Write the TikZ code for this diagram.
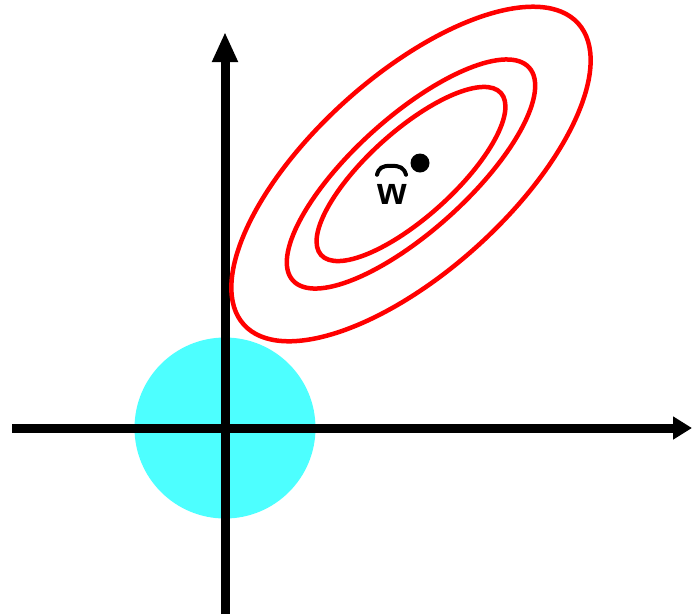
\documentclass[tikz,border=0pt]{standalone}
\usepackage{amsmath}
\usepackage{fontspec}
\usepackage{tikz}
\usetikzlibrary{arrows.meta,calc,positioning}
\newfontfamily\labelfont{Liberation Sans}
\definecolor{ballcyan}{RGB}{77,255,255}
\definecolor{contourred}{RGB}{255,0,0}

\tikzset{
 axisline/.style={black,line width=9pt},
 contour/.style={contourred,line width=4.5pt},
}

\begin{document}
\begin{tikzpicture}[x=1pt,y=-1pt,>=Stealth,line join=round]
 \useasboundingbox (0,0) rectangle (694,614);
 \coordinate (origin) at (225,428);
 \coordinate (xstart) at (12,428);
 \coordinate (xend) at (692,428);
 \coordinate (ystart) at (225,614);
 \coordinate (yend) at (225,32);
 \coordinate (wmin) at (411,174);
 % constraint region
 \fill[ballcyan] (origin) circle (90.5);
 \draw[axisline,-{Triangle[length=19pt,width=22pt]}] (xstart)--(xend);
 \draw[axisline,-{Triangle[length=30pt,width=24pt]}] (ystart)--(yend);
 % level sets of the loss
 \draw[contour,rotate around={42:(wmin)}]
  (wmin) ellipse [x radius=225,y radius=98];
 \draw[contour,rotate around={42:(wmin)}]
  (wmin) ellipse [x radius=159,y radius=57];
 \draw[contour,rotate around={42:(wmin)}]
  (wmin) ellipse [x radius=121,y radius=43];
 \node[circle,fill=black,inner sep=0pt,minimum size=19pt] (wdot) at (420,163) {};
 \node[font=\labelfont\bfseries\fontsize{38}{42}\selectfont,inner sep=0pt]
  (wlabel) at (392,194) {w};
 % the hat over w
 \draw[line width=4pt,line cap=round]
  ($(wlabel.north)+(-15,-9)$) .. controls +(2,-7) and +(-9,0) ..
  ($(wlabel.north)+(-1,-18)$) .. controls +(9,0) and +(-2,-7) ..
  ($(wlabel.north)+(14,-9)$);
\end{tikzpicture}
\end{document}
